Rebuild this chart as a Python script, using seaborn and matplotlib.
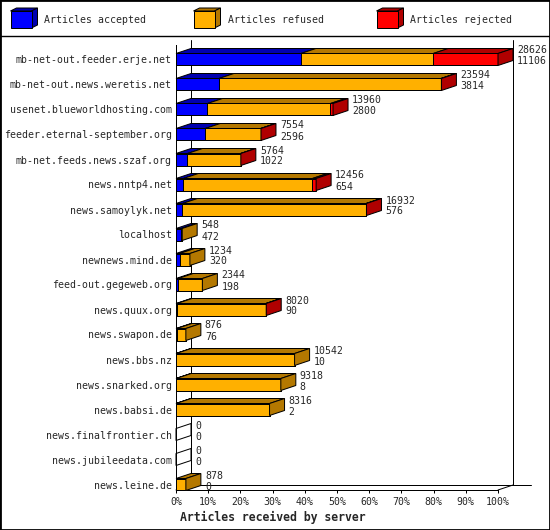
import matplotlib
matplotlib.use("Agg")
import matplotlib.pyplot as plt
from matplotlib.lines import Line2D
from matplotlib.patches import Polygon, Rectangle
import pandas as pd
import seaborn as sns

servers = [
    "mb-net-out.feeder.erje.net",
    "mb-net-out.news.weretis.net",
    "usenet.blueworldhosting.com",
    "feeder.eternal-september.org",
    "mb-net.feeds.news.szaf.org",
    "news.nntp4.net",
    "news.samoylyk.net",
    "localhost",
    "newnews.mind.de",
    "feed-out.gegeweb.org",
    "news.quux.org",
    "news.swapon.de",
    "news.bbs.nz",
    "news.snarked.org",
    "news.babsi.de",
    "news.finalfrontier.ch",
    "news.jubileedata.com",
    "news.leine.de",
]
offered = [28626, 23594, 13960, 7554, 5764, 12456, 16932, 548, 1234, 2344,
           8020, 876, 10542, 9318, 8316, 0, 0, 878]
accepted = [11106, 3814, 2800, 2596, 1022, 654, 576, 472, 320, 198,
            90, 76, 10, 8, 2, 0, 0, 0]
refused = [11760, 19740, 10930, 4928, 4722, 11472, 16326, 76, 914, 2146,
           7900, 800, 10532, 9310, 8314, 0, 0, 878]
rejected = [5760, 40, 230, 30, 20, 330, 30, 0, 0, 0,
            30, 0, 0, 0, 0, 0, 0, 0]

percent_ticks = list(range(0, 101, 10))
tick_labels = [f"{t}%" for t in percent_ticks]
legend_labels = ["Articles accepted", "Articles refused", "Articles rejected"]
front_colors = ["#0000ff", "#ffb000", "#ff0000"]
dark_colors = ["#0000b0", "#b47800", "#b00000"]

sns.set_style("white")
plt.rcParams["font.family"] = ["DejaVu Sans Mono"]

W, H = 550, 530
scale = max(offered)
df = pd.DataFrame({"server": servers, "accepted": accepted,
                   "refused": refused, "rejected": rejected})
df["acc_pct"] = df["accepted"] / scale * 100
df["ref_pct"] = (df["accepted"] + df["refused"]) / scale * 100
df["tot_pct"] = (df["accepted"] + df["refused"] + df["rejected"]) / scale * 100

fig = plt.figure(figsize=(W / 100, H / 100), dpi=100)
ax = fig.add_axes([176 / W, 1 - 490 / H, 322 / W, 445 / H])

# stacked front faces: total, then accepted+refused, then accepted on top
for col, c in zip(["tot_pct", "ref_pct", "acc_pct"], front_colors[::-1]):
    sns.barplot(data=df, y="server", x=col, orient="h", color=c,
                saturation=1, width=0.48, edgecolor="black", linewidth=0.72,
                errorbar=None, ax=ax)

y_bot, y_top = 17 + 5.5 / 25, -14.5 / 25
ax.set_xlim(0, 100)
ax.set_ylim(y_bot, y_top)
dx = 15 / 322 * 100
dy = 0.2

# back wall
wall = dict(color="black", lw=0.72, clip_on=False, zorder=0.5)
ax.plot([dx, dx], [y_top - dy, y_bot - dy], **wall)
ax.plot([100 + dx, 100 + dx], [y_top - dy, y_bot - dy], **wall)
ax.plot([dx, 100 + dx + 18 / 322 * 100], [y_bot - dy, y_bot - dy], **wall)
ax.plot([0, dx], [y_bot, y_bot - dy], **wall)
ax.plot([100, 100 + dx], [y_bot, y_bot - dy], **wall)

tot_bars, ref_bars, acc_bars = ax.containers[0], ax.containers[1], ax.containers[2]
for i in range(len(servers)):
    rb = tot_bars[i]
    top = rb.get_y()
    bottom = top + rb.get_height()
    ends = [acc_bars[i].get_width(), ref_bars[i].get_width(), rb.get_width()]
    starts = [0, ends[0], ends[1]]
    last = None
    for k in range(3):
        if ends[k] > starts[k]:
            ax.add_patch(Polygon(
                [(starts[k], top), (ends[k], top),
                 (ends[k] + dx, top - dy), (starts[k] + dx, top - dy)],
                facecolor=dark_colors[k], edgecolor="black", lw=0.72,
                clip_on=False, zorder=3))
            last = k
    end = ends[2]
    ax.add_patch(Polygon(
        [(end, top), (end + dx, top - dy), (end + dx, bottom - dy), (end, bottom)],
        facecolor=dark_colors[last] if last is not None else "none",
        edgecolor="black", lw=0.72, clip_on=False, zorder=3))
    yc = top + rb.get_height() / 2
    ax.annotate(str(offered[i]), xy=(end + dx, yc), xytext=(4, 9),
                textcoords="offset pixels", va="center", ha="left",
                fontsize=7.1, annotation_clip=False)
    ax.annotate(str(accepted[i]), xy=(end + dx, yc), xytext=(4, -2),
                textcoords="offset pixels", va="center", ha="left",
                fontsize=7.1, annotation_clip=False)

ax.set_xticks(percent_ticks, tick_labels)
ax.set_xlabel("")
ax.set_ylabel("")
ax.tick_params(axis="x", bottom=True, length=2.16, width=0.72, direction="out",
               pad=2.9, labelsize=7.1, color="black")
ax.tick_params(axis="y", left=False, length=0, pad=2.9, labelsize=7.1)
sns.despine(ax=ax)
for s in ["left", "bottom"]:
    ax.spines[s].set_color("black")
    ax.spines[s].set_linewidth(0.72)
ax.spines["left"].set_zorder(4)

fig.text(180 / W, 1 - 517 / H, "Articles received by server",
         fontsize=8.3, fontweight="bold", va="center", ha="left")

# legend strip
def px(x, y):
    return (x / W, 1 - y / H)

for lx, lab, fc, dc in zip([10.5, 193.5, 376.5], legend_labels,
                           front_colors, dark_colors):
    for pts, color in [
        ([px(lx, 11), px(lx + 21, 11), px(lx + 27, 8), px(lx + 6, 8)], dc),
        ([px(lx + 21, 11), px(lx + 27, 8), px(lx + 27, 25), px(lx + 21, 28)], dc),
        ([px(lx, 11), px(lx + 21, 11), px(lx + 21, 28), px(lx, 28)], fc),
    ]:
        fig.add_artist(Polygon(pts, closed=True, facecolor=color,
                               edgecolor="black", lw=0.72,
                               transform=fig.transFigure))
    fig.text(*px(lx + 34, 20), lab, fontsize=7.1, va="center", ha="left")

fig.add_artist(Line2D([0, 1], [1 - 35.5 / H] * 2, color="black", lw=1,
                      transform=fig.transFigure))
fig.add_artist(Rectangle((0, 0), 1, 1, fill=False, edgecolor="black", lw=2,
                         transform=fig.transFigure))

fig.savefig("out.png", dpi=100)
